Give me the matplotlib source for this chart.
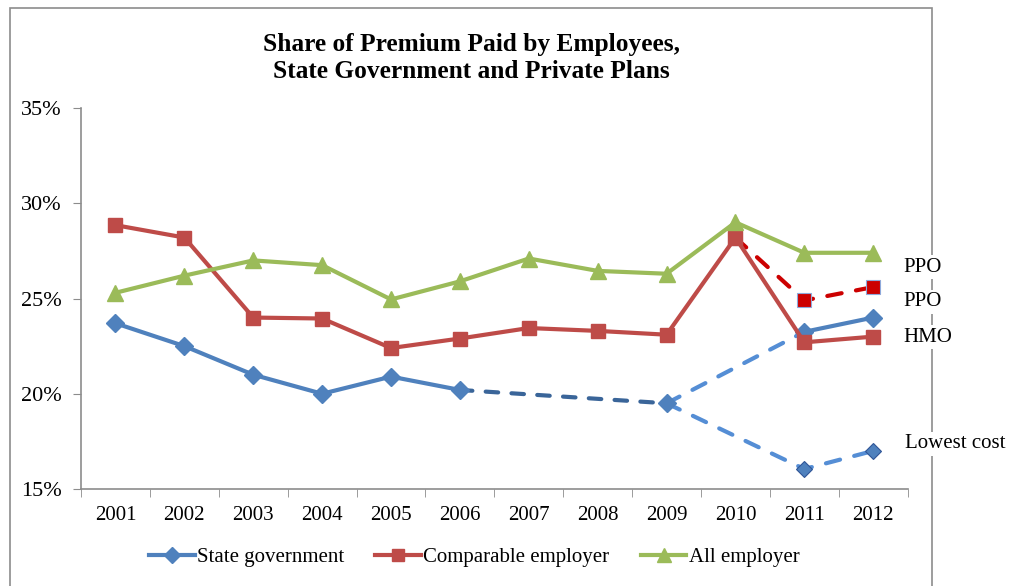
import numpy as np
import matplotlib.pyplot as plt
from matplotlib.patches import Rectangle
from matplotlib.lines import Line2D

plt.rcParams['font.family'] = ['Liberation Serif', 'DejaVu Serif']

years = ['2001', '2002', '2003', '2004', '2005', '2006',
         '2007', '2008', '2009', '2010', '2011', '2012']

# parts solides
state_gov = [23.7, 22.5, 21.0, 20.0, 20.9, 20.2]
comparable = [28.85, 28.2, 24.0, 23.95, 22.4, 22.9, 23.45, 23.3, 23.1, 28.2, 22.7, 23.0]
all_employer = [25.3, 26.2, 27.0, 26.75, 24.95, 25.9, 27.1, 26.45, 26.3, 29.0, 27.4, 27.4]

# parts en pointilles
state_gap = [20.2, 19.5]            # 2006 -> 2009
state_hmo = [19.5, 23.25, 24.0]     # 2009 -> 2011 -> 2012
state_lowest = [19.5, 16.05, 17.0]  # 2009 -> 2011 -> 2012
comparable_ppo = [28.2, 24.9, 25.6] # 2010 -> 2011 -> 2012

blue = '#4F81BD'
dblue = '#3A6599'
lblue = '#558ED5'
red = '#BE4B48'
bred = '#CC0000'
green = '#9BBB59'

fig = plt.figure(figsize=(10.13, 5.86), dpi=100)
ax = fig.add_axes([0.08, 0.1655, 0.816, 0.6502])

x = np.arange(len(years))

# cadre du graphique
fig.patches.append(Rectangle((10 / 1013, -0.1), 922 / 1013, 1.1 - 8 / 586,
                             transform=fig.transFigure, fill=False,
                             edgecolor='#8C8C8C', linewidth=1.2, zorder=0))

# pointilles
ax.plot(x[5:9:3], state_gap, color=dblue, lw=3, ls=(0, (3, 3.2)),
        dash_capstyle='round', zorder=3)
ax.plot([8, 10], state_hmo[:2], color=lblue, lw=3, ls=(0, (3.5, 3.5)),
        dash_capstyle='round', zorder=3)
ax.plot([8, 10, 11], state_lowest, color=lblue, lw=3, ls=(0, (3.5, 3.5)),
        dash_capstyle='round', zorder=3)
ax.plot([10, 11], state_lowest[1:], color=lblue, lw=0, marker='D',
        ms=8, mec='#2F5597', mew=0.8, mfc=blue, zorder=4)
ax.plot([9, 10, 11], comparable_ppo, color=bred, lw=3, ls=(0, (3.5, 3.5)),
        dash_capstyle='round', zorder=3)
ax.plot([9, 10, 11], comparable_ppo, lw=0, marker='s', ms=10,
        mfc=bred, mec='#8EA9DB', mew=0.8, zorder=4)

# lignes solides
ax.plot(x[:6], state_gov, color=blue, lw=3, marker='D', ms=9,
        mec=blue, zorder=5)
ax.plot([8], [19.5], color=blue, lw=0, marker='D', ms=9, zorder=5)
ax.plot([10, 11], state_hmo[1:], color=blue, lw=3, marker='D', ms=9, zorder=5)
ax.plot(x, comparable, color=red, lw=3, marker='s', ms=10, zorder=5)
ax.plot(x, all_employer, color=green, lw=3, marker='^', ms=11, zorder=5)

ax.set_xlim(-0.5, 11.5)
ax.set_ylim(15, 35)
ax.set_yticks([15, 20, 25, 30, 35])
ax.set_yticklabels(['15%', '20%', '25%', '30%', '35%'])
ax.set_xticks(x)
ax.set_xticklabels(years)
ax.set_xticks(np.arange(-0.5, 12, 1), minor=True)
ax.tick_params(axis='x', which='major', length=0, labelsize=15, pad=12)
ax.tick_params(axis='x', which='minor', length=6, color='#8C8C8C')
ax.tick_params(axis='y', length=6, color='#8C8C8C', labelsize=16, pad=8)
for s in ['top', 'right']:
    ax.spines[s].set_visible(False)
for s in ['left', 'bottom']:
    ax.spines[s].set_color('#8C8C8C')
    ax.spines[s].set_linewidth(1.2)

fig.text(0.465, 1 - 58 / 586, 'Share of Premium Paid by Employees,\nState Government and Private Plans',
         ha='center', va='center', fontsize=18.3, fontweight='bold', linespacing=1.22)

# etiquettes a droite
lab = dict(fontsize=15, va='center', ha='left', zorder=6,
           bbox=dict(facecolor='white', edgecolor='none', pad=2))
fig.text(903 / 1013, 1 - 267 / 586, 'PPO', **lab)
fig.text(903 / 1013, 1 - 302 / 586, 'PPO', **lab)
fig.text(903 / 1013, 1 - 337 / 586, 'HMO', **lab)
fig.text(905 / 1013, 1 - 444 / 586, 'Lowest cost', **lab)

handles = [Line2D([], [], color=blue, lw=3, marker='D', ms=8),
           Line2D([], [], color=red, lw=3, marker='s', ms=9),
           Line2D([], [], color=green, lw=3, marker='^', ms=10)]
fig.legend(handles, ['State government', 'Comparable employer', 'All employer'],
           loc='center', bbox_to_anchor=(0.468, 1 - 557 / 586), ncol=3,
           frameon=False, fontsize=15, handlelength=2.2, handletextpad=0.1,
           columnspacing=1.5)

fig.savefig('out.png', dpi=100)
